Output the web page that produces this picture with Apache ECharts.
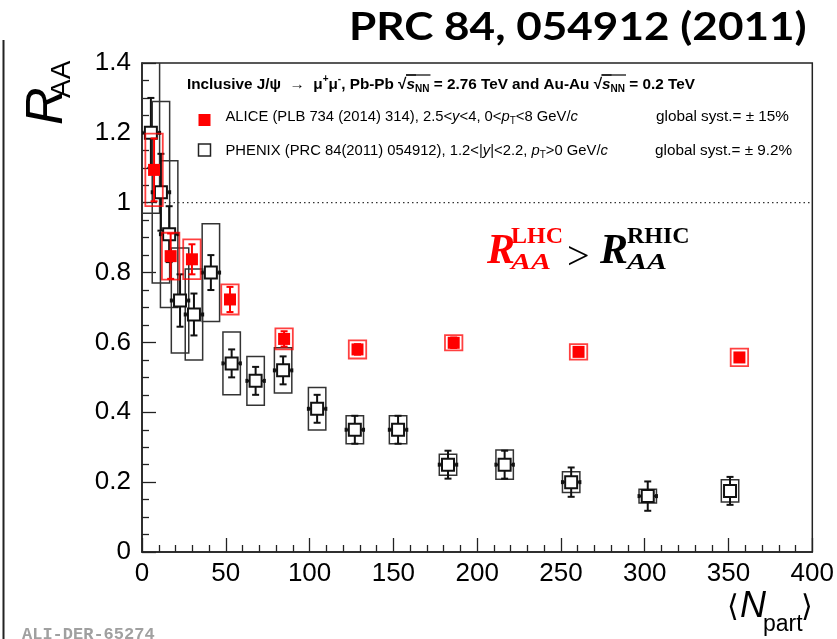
<!DOCTYPE html>
<html>
<head>
<meta charset="utf-8">
<script src="https://cdn.jsdelivr.net/npm/echarts@6/dist/echarts.min.js"></script>
<style>
  html, body { margin: 0; padding: 0; background: #fff; }
  #chart { width: 837px; height: 639px; }
</style>
</head>
<body>
<div id="chart"></div>
<script>
// ALICE Pb-Pb 2.76 TeV, inclusive J/psi, 2.5<y<4
const aliceNpart = [7.2, 17.1, 29.8, 52.5, 84.8, 128.6, 186.0, 260.5, 356.5];
const aliceRaa   = [1.094, 0.847, 0.838, 0.723, 0.610, 0.580, 0.599, 0.573, 0.557];
const aliceStat  = [0.090, 0.065, 0.043, 0.036, 0.022, 0.015, 0.015, 0.010, 0.012];
const aliceSyst  = [0.104, 0.067, 0.057, 0.043, 0.030, 0.026, 0.022, 0.022, 0.025];

// PHENIX Au-Au 0.2 TeV, 1.2<|y|<2.2
const phenixNpart = [5.3, 11.3, 16.2, 22.7, 31.0, 41.1, 53.5, 67.8, 84.2, 104.5, 127.0, 152.8, 182.6, 216.4, 256.1, 301.8, 350.9];
const phenixRaa   = [1.20, 1.03, 0.91, 0.72, 0.68, 0.80, 0.54, 0.49, 0.52, 0.41, 0.35, 0.35, 0.25, 0.25, 0.20, 0.16, 0.175];
const phenixStat  = [0.10, 0.11, 0.08, 0.075, 0.06, 0.05, 0.04, 0.04, 0.04, 0.04, 0.04, 0.04, 0.04, 0.04, 0.042, 0.042, 0.04];
const phenixSyst  = [0.23, 0.26, 0.21, 0.15, 0.13, 0.14, 0.09, 0.07, 0.065, 0.061, 0.04, 0.04, 0.03, 0.042, 0.03, 0.02, 0.032];
const phenixNpartErr = [5.2, 5.2, 5.2, 5.2, 5.2, 5.2, 5.2, 5.2, 5.2, 5.2, 5.2, 5.2, 5.2, 5.2, 5.2, 5.2, 0];

// axis ranges and reference level
const xRange = [0, 400], xStep = 50;
const yRange = [0, 1.4], yStep = 0.2;
const unityLevel = 1;

const RED = '#ff0000';
const BOX_HALF = 5.2;   // half width of systematic boxes, in Npart units

function systBoxes(color, lineWidth) {
  return function (params, api) {
    const x = api.value(0), y = api.value(1), e = api.value(2);
    const a = api.coord([x - BOX_HALF, y + e]);
    const b = api.coord([x + BOX_HALF, y - e]);
    return {
      type: 'rect',
      shape: { x: a[0], y: a[1], width: b[0] - a[0], height: b[1] - a[1] },
      style: { fill: 'none', stroke: color, lineWidth: lineWidth }
    };
  };
}

// statistical error bars (with optional Npart bar) topped by the data marker
function pointsWithErrors(color, lineWidth, cap, marker) {
  return function (params, api) {
    const x = api.value(0), y = api.value(1), e = api.value(2), ex = api.value(3) || 0;
    const c = api.coord([x, y]);
    const top = api.coord([x, y + e]), bot = api.coord([x, y - e]);
    const st = { stroke: color, lineWidth: lineWidth };
    const children = [
      { type: 'line', shape: { x1: top[0], y1: top[1], x2: bot[0], y2: bot[1] }, style: st },
      { type: 'line', shape: { x1: top[0] - cap, y1: top[1], x2: top[0] + cap, y2: top[1] }, style: st },
      { type: 'line', shape: { x1: bot[0] - cap, y1: bot[1], x2: bot[0] + cap, y2: bot[1] }, style: st }
    ];
    if (ex > 0) {
      const l = api.coord([x - ex, y]), r = api.coord([x + ex, y]);
      children.push({ type: 'line', shape: { x1: l[0], y1: l[1], x2: r[0], y2: r[1] }, style: st });
      children.push({ type: 'rect', shape: { x: l[0] - 1.5, y: l[1] - 2, width: 3, height: 4 }, style: { fill: color } });
      children.push({ type: 'rect', shape: { x: r[0] - 1.5, y: r[1] - 2, width: 3, height: 4 }, style: { fill: color } });
    }
    const h = marker.size / 2;
    children.push({
      type: 'rect',
      shape: { x: c[0] - h, y: c[1] - h, width: marker.size, height: marker.size },
      style: marker.style
    });
    return { type: 'group', children: children };
  };
}

const aliceBoxData   = aliceNpart.map((x, i) => [x, aliceRaa[i], aliceSyst[i]]);
const alicePointData = aliceNpart.map((x, i) => [x, aliceRaa[i], aliceStat[i], 0]);
const phenixBoxData  = phenixNpart.map((x, i) => [x, phenixRaa[i], phenixSyst[i]]);
const phenixPointData = phenixNpart.map((x, i) => [x, phenixRaa[i], phenixStat[i], phenixNpartErr[i]]);

const FONT = 'Liberation Sans';
const axisLabelStyle = { fontSize: 26, color: '#000', fontFamily: FONT };

const LF = 14.8;  // legend font size
const legendRich = {
  n:   { fontSize: LF, fontFamily: FONT, color: '#000' },
  i:   { fontSize: LF, fontFamily: FONT, fontStyle: 'italic', color: '#000' },
  sub: { fontSize: 10, fontFamily: FONT, color: '#000', padding: [10, 0, 0, 0] }
};

const SERIF = 'Liberation Serif';
function label(x, y, text, size, opts, extra) {
  return Object.assign({
    type: 'text', x: x, y: y, z: 100,
    style: Object.assign({
      text: text, fontSize: size, fontFamily: FONT, fill: '#000',
      align: 'left', verticalAlign: 'middle'
    }, opts || {})
  }, extra || {});
}

// legend header, laid out piece by piece so the radicals can carry their bar
const HF = 15.3, HS = 10;
const headerPieces = [
  { t: 'Inclusive J/ψ  →  μ', size: HF },
  { t: '+', size: HS, dy: -5 },
  { t: 'μ', size: HF },
  { t: '-', size: HS, dy: -5 },
  { t: ', Pb-Pb ', size: HF },
  { t: '√', size: HF, root: true },
  { t: 's', size: HF, italic: true, under: true },
  { t: 'NN', size: HS, dy: 5, under: true },
  { t: ' = 2.76 TeV and Au-Au ', size: HF },
  { t: '√', size: HF, root: true },
  { t: 's', size: HF, italic: true, under: true },
  { t: 'NN', size: HS, dy: 5, under: true },
  { t: ' = 0.2 TeV', size: HF }
];
function headerGraphics(x0, y0) {
  const ctx = document.createElement('canvas').getContext('2d');
  const out = [];
  let x = x0, barStart = null;
  headerPieces.forEach(p => {
    const font = (p.italic ? 'italic ' : '') + 'bold ' + p.size + 'px "' + FONT + '"';
    ctx.font = font;
    const w = ctx.measureText(p.t).width;
    out.push(label(x, y0 + (p.dy || 0), p.t, p.size, { fontWeight: 'bold', fontStyle: p.italic ? 'italic' : 'normal' }));
    if (p.root) barStart = x + w - 0.5;
    if (p.under) {
      out.push({ type: 'line', z: 100, shape: { x1: barStart, y1: y0 - 9.5, x2: x + w + 1, y2: y0 - 9.5 },
        style: { stroke: '#000', lineWidth: 1.2 } });
    }
    x += w;
  });
  return out;
}

const option = {
  animation: false,
  backgroundColor: '#fff',
  grid: { left: 142, right: 24, top: 63, bottom: 87, show: true, borderColor: '#222', borderWidth: 1.5, backgroundColor: 'transparent' },
  xAxis: {
    type: 'value', min: xRange[0], max: xRange[1], interval: xStep,
    axisLine: { show: true, onZero: false, lineStyle: { color: '#222', width: 1.5 } },
    axisTick: { show: true, inside: true, length: 14, lineStyle: { color: '#222', width: 1.3 } },
    minorTick: { show: true, splitNumber: 5, length: 7, lineStyle: { color: '#222', width: 1.3 } },
    axisLabel: Object.assign({ margin: 9, showMinLabel: true, showMaxLabel: true }, axisLabelStyle),
    splitLine: { show: false }
  },
  yAxis: {
    type: 'value', min: yRange[0], max: yRange[1], interval: yStep,
    axisLine: { show: true, onZero: false, lineStyle: { color: '#222', width: 1.5 } },
    axisTick: { show: true, inside: true, length: 14, lineStyle: { color: '#222', width: 1.3 } },
    minorTick: { show: true, splitNumber: 4, length: 7, lineStyle: { color: '#222', width: 1.3 } },
    axisLabel: Object.assign({ margin: 11, showMinLabel: true, showMaxLabel: true,
      formatter: v => String(+v.toFixed(1)) }, axisLabelStyle),
    splitLine: { show: false }
  },
  series: [
    {
      type: 'line', name: 'unity', data: [[xRange[0], unityLevel], [xRange[1], unityLevel]],
      symbol: 'none', silent: true, z: 1,
      lineStyle: { color: '#333', width: 1.2, type: [1.5, 3] }
    },
    { type: 'custom', name: 'PHENIX syst', clip: true, z: 2, silent: true,
      renderItem: systBoxes('#333', 1.5), data: phenixBoxData, encode: { x: 0, y: 1 } },
    { type: 'custom', name: 'PHENIX', clip: true, z: 3, silent: true,
      renderItem: pointsWithErrors('#111', 2, 3.5, { size: 12, style: { fill: '#fff', stroke: '#111', lineWidth: 2 } }),
      data: phenixPointData, encode: { x: 0, y: 1 } },
    { type: 'custom', name: 'ALICE syst', clip: true, z: 4, silent: true,
      renderItem: systBoxes('rgba(255,0,0,0.75)', 1.8), data: aliceBoxData, encode: { x: 0, y: 1 } },
    { type: 'custom', name: 'ALICE', clip: true, z: 5, silent: true,
      renderItem: pointsWithErrors(RED, 2, 3.5, { size: 12, style: { fill: RED } }),
      data: alicePointData, encode: { x: 0, y: 1 } }
  ],
  graphic: [
    // slide frame edge
    { type: 'line', shape: { x1: 3.5, y1: 40, x2: 3.5, y2: 639 }, style: { stroke: '#222', lineWidth: 2 } },
    // publication reference
    label(349, 27, 'PRC 84, 054912 (2011)', 39, { fontFamily: 'Lato', fontWeight: 'bold' }, { scaleX: 1.13 }),
    // legend header
    ...headerGraphics(187, 84.5),
    // legend entries
    { type: 'rect', z: 100, shape: { x: 198.5, y: 114, width: 12, height: 12 }, style: { fill: RED } },
    { type: 'rect', z: 100, shape: { x: 198.5, y: 144, width: 12, height: 12 }, style: { fill: '#fff', stroke: '#222', lineWidth: 1.5 } },
    label(225.5, 116.5, '{n|ALICE (PLB 734 (2014) 314), 2.5<}{i|y}{n|<4, 0<}{i|p}{sub|T}{n|<8 GeV/}{i|c}', LF, { rich: legendRich }),
    label(225.5, 150.5, '{n|PHENIX (PRC 84(2011) 054912), 1.2<|}{i|y}{n||<2.2, }{i|p}{sub|T}{n|>0 GeV/}{i|c}', LF, { rich: legendRich }),
    label(656, 116.5, 'global syst.= ± 15%', 15.3),
    label(655, 150.5, 'global syst.= ± 9.2%', 15.3),
    // R_AA^LHC > R_AA^RHIC
    label(487, 252, 'R', 42, { fontFamily: SERIF, fontWeight: 'bold', fontStyle: 'italic', fill: RED }),
    label(511, 237, 'LHC', 24, { fontFamily: SERIF, fontWeight: 'bold', fill: RED }),
    label(511, 263, 'AA', 24, { fontFamily: SERIF, fontWeight: 'bold', fontStyle: 'italic', fill: RED }, { scaleX: 1.25 }),
    label(567, 258, '>', 40, { fontFamily: SERIF }),
    label(600, 252, 'R', 42, { fontFamily: SERIF, fontWeight: 'bold', fontStyle: 'italic' }),
    label(627, 237, 'RHIC', 24, { fontFamily: SERIF, fontWeight: 'bold' }),
    label(627, 263, 'AA', 24, { fontFamily: SERIF, fontWeight: 'bold', fontStyle: 'italic' }, { scaleX: 1.25 }),
    // y-axis title
    label(48, 125, 'R', 52, { fontStyle: 'italic' }, { rotation: Math.PI / 2 }),
    label(62, 98, 'AA', 28, {}, { rotation: Math.PI / 2 }),
    // x-axis title
    label(727, 608, '⟨', 30, { fontFamily: 'DejaVu Sans' }),
    label(740, 607, 'N', 36, { fontStyle: 'italic' }),
    label(763, 625, 'part', 23),
    label(801, 608, '⟩', 30, { fontFamily: 'DejaVu Sans' }),
    // figure id
    label(22, 635, 'ALI-DER-65274', 17, { fontFamily: 'Liberation Mono', fontWeight: 'bold', fill: '#a0a0a0' })
  ]
};

const chart = echarts.init(document.getElementById('chart'), null, { renderer: 'canvas' });
chart.setOption(option);
</script>
</body>
</html>
